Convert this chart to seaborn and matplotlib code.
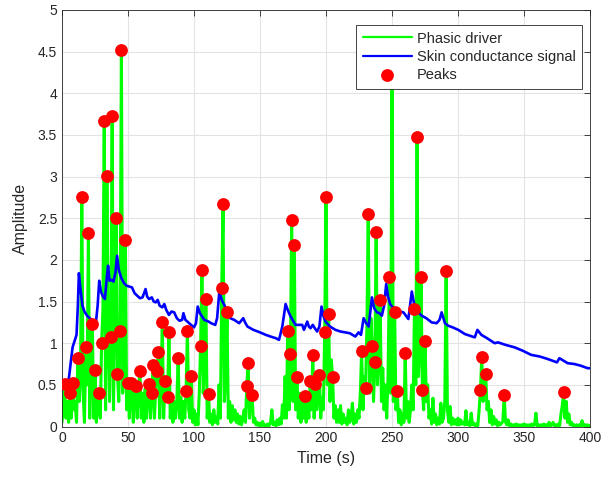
"""
Phasic driver vs skin conductance signal with detected peaks
"""

import numpy as np
import pandas as pd
import matplotlib
matplotlib.use("Agg")
import matplotlib.pyplot as plt
from matplotlib.ticker import FuncFormatter
import seaborn as sns

# Phasic driver, one sample per second (t = 0 .. 400 s)
phasic = [
    0.05, 0.25, 0.51, 0.10, 0.30, 0.05, 0.40, 0.10, 0.52, 0.20, 0.30, 0.05, 0.82, 0.30, 0.60, 2.76, 0.40, 0.05, 0.95, 0.50,
    2.32, 0.10, 0.80, 1.23, 0.10, 0.68, 0.05, 0.30, 0.40, 0.10, 1.00, 1.40, 3.67, 0.20, 3.01, 1.20, 0.30, 1.07, 3.73, 0.20,
    1.60, 2.50, 0.63, 0.30, 1.15, 4.52, 0.40, 0.90, 2.24, 0.20, 0.52, 0.10, 0.52, 0.40, 0.05, 0.40, 0.49, 0.10, 0.45, 0.67,
    0.10, 0.40, 0.05, 0.45, 0.10, 0.40, 0.51, 0.10, 0.40, 0.74, 0.10, 0.45, 0.67, 0.89, 0.10, 0.50, 1.25, 0.10, 0.55, 0.30,
    0.35, 1.13, 0.10, 0.35, 0.05, 0.30, 0.10, 0.30, 0.82, 0.10, 0.35, 0.05, 0.30, 0.10, 0.43, 1.15, 0.20, 0.10, 0.61, 0.05,
    0.20, 0.02, 0.15, 0.02, 0.40, 0.97, 1.88, 0.40, 0.80, 1.53, 0.10, 0.39, 0.05, 0.15, 0.02, 0.20, 0.05, 0.12, 0.03, 0.50,
    0.10, 1.66, 2.67, 0.30, 0.60, 1.38, 0.10, 0.30, 0.05, 0.25, 0.08, 0.20, 0.05, 0.15, 0.03, 0.12, 0.02, 0.10, 0.20, 0.05,
    0.49, 0.76, 0.10, 0.30, 0.38, 0.05, 0.10, 0.02, 0.05, 0.01, 0.04, 0.01, 0.06, 0.01, 0.02, 0.01, 0.03, 0.01, 0.05, 0.20,
    0.02, 0.05, 0.01, 0.08, 0.02, 0.10, 0.03, 0.26, 0.10, 0.60, 0.10, 1.15, 0.20, 0.87, 2.48, 0.30, 2.18, 0.20, 0.59, 0.10,
    0.40, 0.05, 0.35, 0.10, 0.37, 0.05, 0.30, 0.10, 0.55, 0.20, 0.86, 0.10, 0.51, 0.20, 0.40, 0.62, 0.10, 0.35, 0.20, 1.13,
    2.76, 0.50, 1.35, 0.30, 0.80, 0.60, 0.10, 0.25, 0.05, 0.20, 0.05, 0.25, 0.03, 0.15, 0.05, 0.10, 0.02, 0.20, 0.05, 0.10,
    0.28, 0.03, 0.15, 0.05, 0.20, 0.10, 0.40, 0.91, 0.20, 0.60, 0.46, 1.20, 2.55, 0.40, 1.30, 0.97, 0.30, 0.77, 2.33, 0.50,
    0.90, 1.52, 0.30, 0.70, 0.20, 0.50, 0.10, 0.60, 1.79, 0.40, 4.40, 0.30, 1.37, 0.20, 0.43, 0.05, 0.20, 0.02, 0.15, 0.05,
    0.88, 0.10, 0.30, 0.05, 0.20, 0.50, 0.20, 1.41, 0.50, 3.48, 0.60, 1.00, 1.79, 0.44, 0.20, 1.03, 0.30, 0.50, 0.10, 0.20,
    0.03, 0.34, 0.05, 0.15, 0.02, 0.10, 0.03, 0.28, 0.05, 0.10, 0.30, 1.87, 0.20, 0.05, 0.24, 0.02, 0.10, 0.03, 0.08, 0.02,
    0.10, 0.02, 0.08, 0.03, 0.05, 0.02, 0.19, 0.02, 0.05, 0.01, 0.16, 0.02, 0.04, 0.01, 0.03, 0.01, 0.20, 0.44, 0.83, 0.30,
    0.50, 0.63, 0.20, 0.30, 0.05, 0.20, 0.02, 0.12, 0.03, 0.08, 0.01, 0.05, 0.02, 0.04, 0.06, 0.38, 0.05, 0.02, 0.08, 0.01,
    0.03, 0.01, 0.02, 0.01, 0.03, 0.01, 0.02, 0.01, 0.02, 0.01, 0.03, 0.01, 0.02, 0.01, 0.02, 0.01, 0.03, 0.01, 0.02, 0.16,
    0.01, 0.02, 0.01, 0.02, 0.01, 0.03, 0.01, 0.02, 0.01, 0.05, 0.01, 0.02, 0.05, 0.01, 0.02, 0.01, 0.03, 0.01, 0.15, 0.25,
    0.41, 0.10, 0.30, 0.05, 0.15, 0.02, 0.05, 0.01, 0.02, 0.01, 0.02, 0.01, 0.02, 0.01, 0.07, 0.01, 0.02, 0.01, 0.02, 0.01,
    0.01,
]
phasic_time = np.arange(len(phasic))

# Skin conductance signal (seconds, amplitude)
scl_time = [
    0, 3, 5, 6.5, 8, 10, 11, 12, 12.8, 14, 15.5, 17, 19, 21, 23, 25.5, 27, 28.2, 29.5, 31,
    32.5, 34, 34.9, 36, 37.5, 39, 40.5, 41.7, 43, 45, 47, 49, 51, 53, 55, 57, 59, 61, 63.3, 64.5,
    66, 68, 69.5, 71, 72.5, 74, 76, 77.5, 79, 81, 83, 85, 87, 89, 91, 92, 93.5, 95, 97, 100,
    101.5, 102.8, 104.5, 107.8, 111, 113, 116.1, 117.5, 119.2, 121, 122.9, 125, 127.5, 130.5, 134.2, 137.3, 139, 140.5, 145, 150,
    154.4, 158, 162, 164.4, 166.9, 169.4, 171, 173.2, 175, 177, 180, 182, 183.3, 185.8, 187, 188.3, 190, 191.5, 193.3, 195,
    196.6, 198, 199.6, 203, 207.2, 211, 214.7, 218, 222.2, 224.7, 226.5, 228.5, 230.5, 232.3, 234.8, 236.5, 238.6, 240.5, 242.3, 244,
    245.6, 247, 248.6, 251, 253.6, 256, 258.7, 260.5, 262.4, 265, 267.5, 270, 272.5, 276, 280, 283.8, 286, 287.6, 290.1, 292.6,
    296, 300.2, 305.2, 309, 312.7, 314.7, 317.7, 322, 327.8, 330.3, 336, 342.9, 349, 355.4, 362, 368, 375, 376.8, 380, 383.1,
    388.2, 393, 398.2, 400,
]
scl_level = [
    0.45, 0.47, 0.55, 0.75, 0.95, 1.05, 1.10, 1.45, 1.84, 1.65, 1.45, 1.38, 1.33, 1.30, 1.27, 1.22, 1.45, 1.75, 1.62, 1.56,
    1.53, 1.80, 1.93, 1.75, 1.76, 1.74, 1.85, 2.05, 1.88, 1.78, 1.72, 1.69, 1.68, 1.67, 1.60, 1.57, 1.54, 1.55, 1.65, 1.56,
    1.53, 1.55, 1.50, 1.49, 1.52, 1.45, 1.43, 1.47, 1.40, 1.34, 1.38, 1.37, 1.30, 1.27, 1.28, 1.36, 1.28, 1.26, 1.23, 1.19,
    1.24, 1.44, 1.36, 1.28, 1.26, 1.24, 1.22, 1.30, 1.62, 1.52, 1.46, 1.38, 1.30, 1.28, 1.24, 1.30, 1.24, 1.20, 1.16, 1.13,
    1.10, 1.08, 1.06, 1.04, 1.20, 1.47, 1.40, 1.32, 1.27, 1.22, 1.22, 1.22, 1.16, 1.26, 1.20, 1.18, 1.22, 1.18, 1.14, 1.20,
    1.44, 1.33, 1.26, 1.20, 1.16, 1.14, 1.13, 1.12, 1.08, 1.13, 1.10, 1.30, 1.24, 1.20, 1.55, 1.42, 1.37, 1.36, 1.33, 1.45,
    1.71, 1.56, 1.47, 1.42, 1.37, 1.38, 1.37, 1.33, 1.29, 1.62, 1.41, 1.37, 1.33, 1.30, 1.25, 1.24, 1.28, 1.37, 1.24, 1.21,
    1.19, 1.16, 1.11, 1.09, 1.07, 1.16, 1.10, 1.06, 1.00, 1.01, 0.98, 0.95, 0.91, 0.86, 0.84, 0.81, 0.77, 0.82, 0.79, 0.76,
    0.75, 0.73, 0.70, 0.70,
]

# Detected peaks (seconds); they sit on top of the phasic driver
peak_time = [
    2, 6, 8, 12, 15, 18, 20, 23, 25, 28, 30, 32, 34, 37, 38, 41, 42, 44, 45, 48,
    50, 52, 56, 59, 66, 68, 69, 72, 73, 76, 78, 80, 81, 88, 94, 95, 98, 105, 106, 109,
    111, 121, 122, 125, 140, 141, 144, 171, 173, 174, 176, 178, 184, 188, 190, 192, 195, 199, 200, 202,
    205, 227, 230, 232, 235, 237, 238, 241, 248, 250, 252, 254, 260, 267, 269, 272, 273, 275, 291, 317,
    318, 321, 335, 380,
]

# Set style
sns.set_style("whitegrid")
plt.rcParams['font.family'] = ['Liberation Sans', 'DejaVu Sans']
plt.rcParams['font.size'] = 10

driver_df = pd.DataFrame({'t': phasic_time, 'amp': phasic})
scl_df = pd.DataFrame({'t': scl_time, 'amp': scl_level})
peaks_df = pd.DataFrame({'t': peak_time, 'amp': [phasic[i] for i in peak_time]})

fig = plt.figure(figsize=(6.03, 4.79), dpi=100)
ax = fig.add_axes([62 / 603, 52.5 / 479, 528 / 603, 416.5 / 479])

sns.lineplot(data=driver_df, x='t', y='amp', ax=ax, color='#00ff00', linewidth=2.2,
             estimator=None, sort=False, label='Phasic driver', zorder=2)
sns.lineplot(data=scl_df, x='t', y='amp', ax=ax, color='#0000ff', linewidth=1.9,
             estimator=None, sort=False, label='Skin conductance signal', zorder=3)
sns.scatterplot(data=peaks_df, x='t', y='amp', ax=ax, color='#ff0000', s=85,
                linewidth=0, label='Peaks', zorder=4)

ax.set_xlim(0, 400)
ax.set_ylim(0, 5)
ax.set_xticks(np.arange(0, 401, 50))
ax.set_yticks(np.arange(0, 5.01, 0.5))
ax.yaxis.set_major_formatter(FuncFormatter(lambda v, _: f'{v:g}'))

ax.set_xlabel('Time (s)', fontsize=11.5, color='#262626')
ax.set_ylabel('Amplitude', fontsize=11.5, color='#262626', labelpad=7)

ax.grid(True, color='#e3e3e3', linewidth=0.8)
for side in ['top', 'bottom', 'left', 'right']:
    ax.spines[side].set_visible(True)
    ax.spines[side].set_color('#262626')
    ax.spines[side].set_linewidth(0.6)
ax.tick_params(direction='in', length=4, width=0.6, top=True, right=True,
               colors='#262626', labelsize=10)

leg = ax.legend(loc='upper right', bbox_to_anchor=(0.985, 0.964), borderaxespad=0,
                fancybox=False, framealpha=1, edgecolor='#262626', fontsize=10.5,
                handlelength=3.4, handletextpad=0.3, labelspacing=0.3, borderpad=0.45)
leg.get_frame().set_linewidth(0.6)
for handle in leg.get_lines():
    handle.set_linewidth(1.6)
leg.set_zorder(10)

fig.savefig('out.png', dpi=100)
plt.close()
